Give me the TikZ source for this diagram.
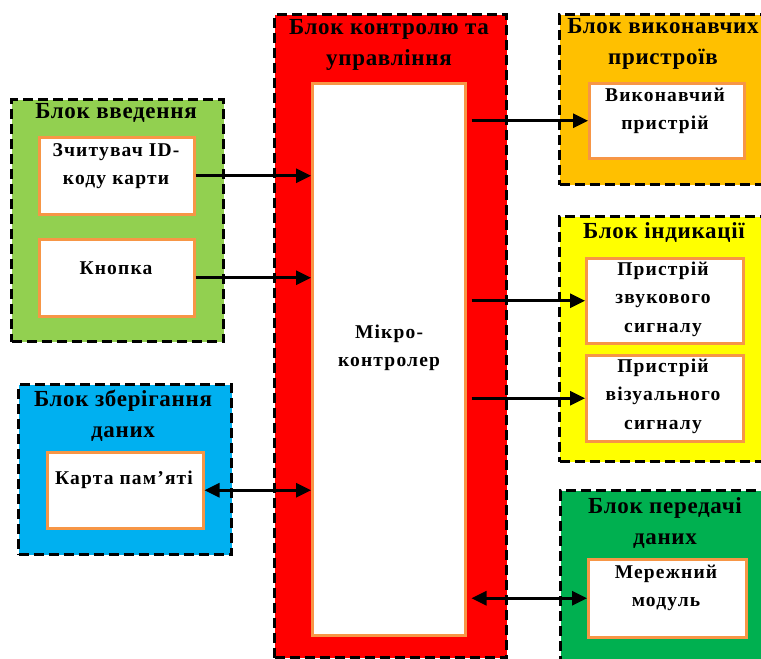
\documentclass[tikz,border=0pt]{standalone}
\usepackage{fontspec}
\setmainfont{Liberation Serif}
\usetikzlibrary{arrows.meta}
\definecolor{cgreen}{HTML}{92D050}
\definecolor{cred}{HTML}{FF0000}
\definecolor{cblue}{HTML}{00B0F0}
\definecolor{corange}{HTML}{FFC000}
\definecolor{cyellow}{HTML}{FFFF00}
\definecolor{cdkgreen}{HTML}{00B050}
\definecolor{cborder}{HTML}{F79646}
\begin{document}
\begin{tikzpicture}[x=1pt,y=-1pt,
  frame/.style={draw=black, line width=3pt, dash pattern=on 10pt off 5pt, inner sep=0pt, anchor=north west},
  ibox/.style={draw=cborder, line width=2.5pt, fill=white, inner sep=0pt, anchor=north west},
  ttl/.style={font=\fontsize{23}{31}\selectfont\bfseries\addfontfeature{LetterSpace=3}, align=center, inner sep=0pt},
  itxt/.style={font=\fontsize{19.5}{28.5}\selectfont\bfseries\addfontfeature{LetterSpace=6}, align=center, inner sep=0pt},
  arr/.style={line width=2.7pt, -{Triangle[length=15pt,width=14pt]}},
  darr/.style={line width=2.7pt, {Triangle[length=15pt,width=14pt]}-{Triangle[length=15pt,width=14pt]}}]
\useasboundingbox (0,0) rectangle (761,659);
\clip (0,0) rectangle (761,659);
% containers
\node[frame, fill=cred, minimum width=232pt, minimum height=643pt] (ctrl) at (273,13) {};
\node[ibox, minimum width=153pt, minimum height=552pt] (micro) at (311,82) {};
\node[frame, fill=cgreen, minimum width=212pt, minimum height=242pt] (inblk) at (10,98) {};
\node[ibox, minimum width=155pt, minimum height=77pt] (reader) at (38,136) {};
\node[ibox, minimum width=155pt, minimum height=77pt] (button) at (38,238) {};
\node[frame, fill=cblue, minimum width=213pt, minimum height=170pt] (store) at (17,383) {};
\node[ibox, minimum width=156pt, minimum height=76pt] (card) at (46,451) {};
\node[frame, fill=corange, minimum width=230pt, minimum height=170pt] (actblk) at (558,13) {};
\node[ibox, minimum width=155pt, minimum height=75pt] (exec) at (588,82) {};
\node[frame, fill=cyellow, minimum width=230pt, minimum height=245pt] (indblk) at (558,215) {};
\node[ibox, minimum width=157pt, minimum height=85pt] (sound) at (585,257) {};
\node[ibox, minimum width=157pt, minimum height=86pt] (visual) at (585,354) {};
\node[frame, fill=cdkgreen, minimum width=230pt, minimum height=200pt] (netblk) at (559,489) {};
\node[ibox, minimum width=158pt, minimum height=78pt] (net) at (587,558) {};
% titles
\node[ttl] (t1) at (116,113) {Блок введення};
\node[ttl] (t2) at (389,45) {Блок контролю та\\управління};
\node[ttl] (t3) at (663,44) {Блок виконавчих\\пристроїв};
\node[ttl] (t4) at (664,233) {Блок індикації};
\node[ttl] (t5) at (123,416) {Блок зберігання\\даних};
\node[ttl] (t6) at (665,523) {Блок передачі\\даних};
% inner texts
\node[itxt] (l1) at (116,166) {Зчитувач ID-\\коду карти};
\node[itxt] (l2) at (116,268) {Кнопка};
\node[itxt] (l3) at (124,480) {Карта пам’яті};
\node[itxt] (l4) at (665,111) {Виконавчий\\пристрій};
\node[itxt] (l5) at (663,299) {Пристрій\\звукового\\сигналу};
\node[itxt] (l6) at (663,396) {Пристрій\\візуального\\сигналу};
\node[itxt] (l7) at (666,588) {Мережний\\модуль};
\node[itxt] (l8) at (389,348) {Мікро-\\контролер};
% connectors
\draw[arr] (reader.east) -- (reader.east -| micro.west);
\draw[arr] (button.east) -- (button.east -| micro.west);
\draw[darr] (card.east) -- (card.east -| micro.west);
\draw[arr, shorten <=5pt] (micro.east |- exec.west) -- (exec.west);
\draw[arr, shorten <=5pt] (micro.east |- sound.west) -- (sound.west);
\draw[arr, shorten <=5pt] (micro.east |- visual.west) -- (visual.west);
\draw[darr] ([xshift=5pt]micro.east |- net.west) -- (net.west);
\end{tikzpicture}
\end{document}
